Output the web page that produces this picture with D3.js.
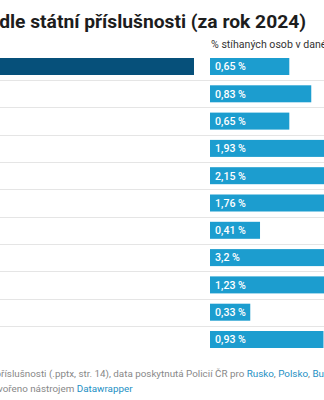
<!DOCTYPE html>
<html>
<head>
<meta charset="utf-8">
<script src="https://cdn.jsdelivr.net/npm/d3@7"></script>
<style>
  html, body { margin: 0; padding: 0; background: #fff; overflow: hidden; }
  svg { display: block; font-family: Roboto, "Noto Sans", sans-serif; }
</style>
</head>
<body>
<svg id="chart" width="324" height="400"></svg>
<script>
// ---- data ----
const titleText = "dle státní příslušnosti (za rok 2024)";
const columnHeader = "% stíhaných osob v daném státě";
// share of prosecuted persons (%), one per row
const shares = [0.65, 0.83, 0.65, 1.93, 2.15, 1.76, 0.41, 3.2, 1.23, 0.33, 0.93];
const shareLabels = ["0,65 %", "0,83 %", "0,65 %", "1,93 %", "2,15 %", "1,76 %", "0,41 %", "3,2 %", "1,23 %", "0,33 %", "0,93 %"];
// number of prosecuted persons (left bar column, mostly cropped out of view; estimated)
const counts = [3800, 1000, 420, 760, 540, 380, 300, 280, 260, 150, 120];
const sourcePrefix = "příslušnosti (.pptx, str. 14), data poskytnutá Policií ČR pro ";
const sourceLinks = ["Rusko", "Polsko", "Bulharsko"];
const creditPrefix = "Vytvořeno nástrojem ";
const creditLink = "Datawrapper";

// ---- layout ----
const svg = d3.select("#chart");
const rowTop = 58, rowStep = 27.3, barH = 17;
const pctX0 = 210, pxPerUnit = 122;
const rowIdx = d3.range(shares.length);

const y = d3.scaleLinear().domain([0, 1]).range([rowTop, rowTop + rowStep]);
const xPct = d3.scaleLinear().domain([0, d3.max(shares)]).range([pctX0, pctX0 + pxPerUnit * d3.max(shares)]);
const xCount = d3.scaleLinear().domain([0, d3.max(counts)]).range([-230, 194]);

// helper: measure width of a string at a font size / weight
function measure(str, size, weight) {
  const t = svg.append("text").attr("font-size", size).attr("font-weight", weight || 400)
    .style("white-space", "pre").text(str);
  const w = t.node().getComputedTextLength();
  t.remove();
  return w;
}

// title: whole title spans x≈-1 → 306
const titleSize = 20 * (306 + 1) / measure(titleText, 20, 700);
svg.append("text")
  .attr("x", 306).attr("y", 27.5)
  .attr("text-anchor", "end")
  .attr("font-size", titleSize).attr("font-weight", 700).attr("fill", "#1d1d1d")
  .text(titleText);

// column header
svg.append("text")
  .attr("x", pctX0 + 1).attr("y", 48)
  .attr("font-size", 10.6).attr("fill", "#333")
  .text(columnHeader);

// row separators
svg.append("g").selectAll("line")
  .data(rowIdx.slice(0, -1))
  .join("line")
  .attr("x1", 0).attr("x2", 324)
  .attr("y1", d => Math.round(y(d) + barH + (rowStep - barH) / 2) + 0.5)
  .attr("y2", d => Math.round(y(d) + barH + (rowStep - barH) / 2) + 0.5)
  .attr("stroke", "#e5e5e5").attr("stroke-width", 1);

// count bars (left column)
svg.append("g").selectAll("rect")
  .data(counts)
  .join("rect")
  .attr("x", xCount(0))
  .attr("y", (d, i) => y(i))
  .attr("width", d => xCount(d) - xCount(0))
  .attr("height", barH)
  .attr("fill", "#06507a");

// share bars (right column)
svg.append("g").selectAll("rect")
  .data(shares)
  .join("rect")
  .attr("x", xPct(0))
  .attr("y", (d, i) => y(i))
  .attr("width", d => xPct(d) - xPct(0))
  .attr("height", barH)
  .attr("fill", "#1c9dcf");

svg.append("g").selectAll("text")
  .data(shareLabels)
  .join("text")
  .attr("x", xPct(0) + 5)
  .attr("y", (d, i) => y(i) + barH / 2 + 3.8)
  .attr("font-size", 10.6).attr("font-weight", 500).attr("fill", "#fff")
  .text(d => d);

// footer line 1: "říslušnosti ... pro " spans x≈1 → 246.7
const linkX = 246.7;
const fs = 10 * (linkX - 1) / measure(sourcePrefix.slice(1), 10, 400);
svg.append("text")
  .attr("x", linkX).attr("y", 377)
  .attr("text-anchor", "end")
  .attr("font-size", fs).attr("fill", "#888")
  .style("white-space", "pre")
  .text(sourcePrefix);
const f1 = svg.append("text")
  .attr("x", linkX).attr("y", 377)
  .attr("font-size", fs).attr("fill", "#888");
sourceLinks.forEach((s, i) => {
  f1.append("tspan").attr("fill", "#1d8fc4").text(s);
  if (i < sourceLinks.length - 1) f1.append("tspan").attr("fill", "#888").text(", ");
});

// footer line 2
const link2X = 76.7;
svg.append("text")
  .attr("x", link2X).attr("y", 391.5)
  .attr("text-anchor", "end")
  .attr("font-size", fs).attr("fill", "#888")
  .style("white-space", "pre")
  .text(creditPrefix);
svg.append("text")
  .attr("x", link2X).attr("y", 391.5)
  .attr("font-size", fs).attr("fill", "#1d8fc4")
  .text(creditLink);
</script>
</body>
</html>
